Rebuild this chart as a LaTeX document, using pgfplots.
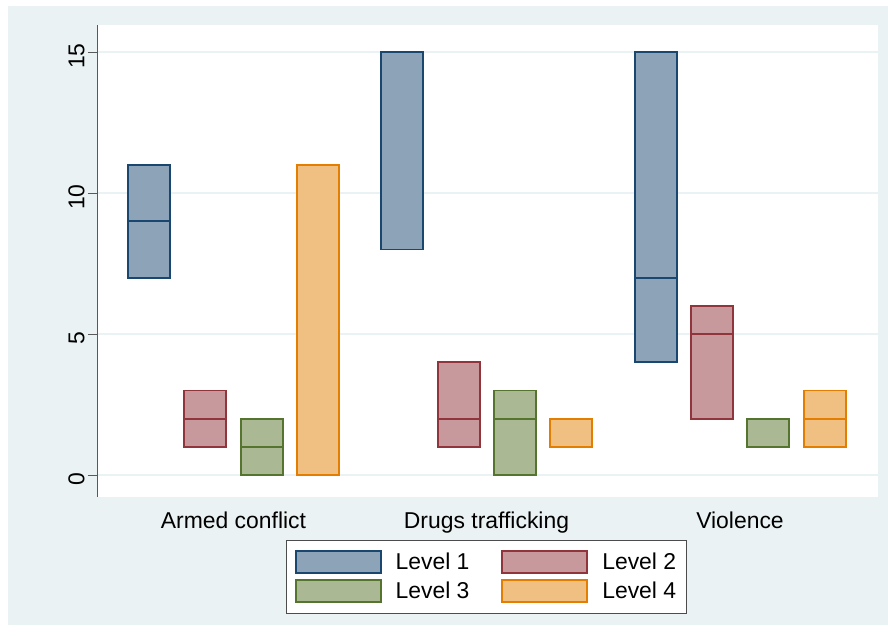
\documentclass[border=0pt]{standalone}
\usepackage{fontspec}
\setmainfont{Liberation Sans}
\usepackage{pgfplots}
\pgfplotsset{compat=1.18}
\definecolor{bgc}{HTML}{EAF2F3}
\definecolor{lineA}{HTML}{1A476F}\definecolor{fillA}{HTML}{8CA3B8}
\definecolor{lineB}{HTML}{90353B}\definecolor{fillB}{HTML}{C8999C}
\definecolor{lineC}{HTML}{55752F}\definecolor{fillC}{HTML}{AAB994}
\definecolor{lineD}{HTML}{E37E00}\definecolor{fillD}{HTML}{F0BF82}
\begin{document}
\begin{tikzpicture}
\fill[white] (0bp,0bp) rectangle (888bp,636bp);
\fill[bgc] (8bp,11bp) rectangle (888bp,630bp);
\begin{axis}[
	at={(97bp,139bp)},anchor=south west,
	scale only axis,width=781bp,height=472bp,
	axis background/.style={fill=white},
	xmin=97,xmax=878,ymin=-0.78,ymax=15.96,
	axis lines*=left,
	x axis line style={draw=none},
	y axis line style={draw=black!65,line width=1bp},
	xtick={233.5,486.5,740},
	xticklabels={Armed conflict,Drugs trafficking,Violence},
	xtick style={draw=none},
	ytick={0,5,10,15},
	ytick style={draw=black!65,line width=1bp},
	tick align=outside,major tick length=9bp,
	yticklabel style={rotate=90,anchor=south,xshift=-4bp},
	xticklabel style={yshift=-2bp},
	/pgf/number format/assume math mode=true,
	ymajorgrids,grid style={draw=bgc,line width=1.5bp},
	ticklabel style={font=\fontsize{23}{27}\selectfont},
	legend style={at={(0.4987,-0.0911)},anchor=north,draw=black!70,line width=1bp,
		font=\fontsize{23}{27}\selectfont,legend columns=2,
		inner xsep=8bp,inner ysep=10bp,row sep=5bp,
		nodes={inner sep=2bp},
		/tikz/every odd column/.append style={column sep=12bp},
		/tikz/every even column/.append style={column sep=30bp}},
	legend image code/.code={\draw[#1] (0bp,-11bp) rectangle (85bp,11bp);},
	every axis plot/.append style={line width=1.8bp}
	]
% Armed conflict
\addplot[forget plot,draw=lineA,fill=fillA] coordinates {(128,7)(170,7)(170,11)(128,11)} --cycle;
\addplot[forget plot,draw=lineA] coordinates {(128,9)(170,9)};
\addplot[forget plot,draw=lineB,fill=fillB] coordinates {(184,1)(226,1)(226,3)(184,3)} --cycle;
\addplot[forget plot,draw=lineB] coordinates {(184,2)(226,2)};
\addplot[forget plot,draw=lineC,fill=fillC] coordinates {(241,0)(283,0)(283,2)(241,2)} --cycle;
\addplot[forget plot,draw=lineC] coordinates {(241,1)(283,1)};
\addplot[forget plot,draw=lineD,fill=fillD] coordinates {(297,0)(339,0)(339,11)(297,11)} --cycle;
% Drugs trafficking
\addplot[forget plot,draw=lineA,fill=fillA] coordinates {(381,8)(423,8)(423,15)(381,15)} --cycle;
\addplot[forget plot,draw=lineB,fill=fillB] coordinates {(438,1)(480,1)(480,4)(438,4)} --cycle;
\addplot[forget plot,draw=lineB] coordinates {(438,2)(480,2)};
\addplot[forget plot,draw=lineC,fill=fillC] coordinates {(494,0)(536,0)(536,3)(494,3)} --cycle;
\addplot[forget plot,draw=lineC] coordinates {(494,2)(536,2)};
\addplot[forget plot,draw=lineD,fill=fillD] coordinates {(550,1)(592,1)(592,2)(550,2)} --cycle;
% Violence
\addplot[forget plot,draw=lineA,fill=fillA] coordinates {(635,4)(677,4)(677,15)(635,15)} --cycle;
\addplot[forget plot,draw=lineA] coordinates {(635,7)(677,7)};
\addplot[forget plot,draw=lineB,fill=fillB] coordinates {(691,2)(733,2)(733,6)(691,6)} --cycle;
\addplot[forget plot,draw=lineB] coordinates {(691,5)(733,5)};
\addplot[forget plot,draw=lineC,fill=fillC] coordinates {(747,1)(789,1)(789,2)(747,2)} --cycle;
\addplot[forget plot,draw=lineD,fill=fillD] coordinates {(804,1)(846,1)(846,3)(804,3)} --cycle;
\addplot[forget plot,draw=lineD] coordinates {(804,2)(846,2)};
\addlegendimage{draw=lineA,fill=fillA,line width=1.8bp}\addlegendentry{Level 1}
\addlegendimage{draw=lineB,fill=fillB,line width=1.8bp}\addlegendentry{Level 2}
\addlegendimage{draw=lineC,fill=fillC,line width=1.8bp}\addlegendentry{Level 3}
\addlegendimage{draw=lineD,fill=fillD,line width=1.8bp}\addlegendentry{Level 4}
\end{axis}
\end{tikzpicture}
\end{document}
